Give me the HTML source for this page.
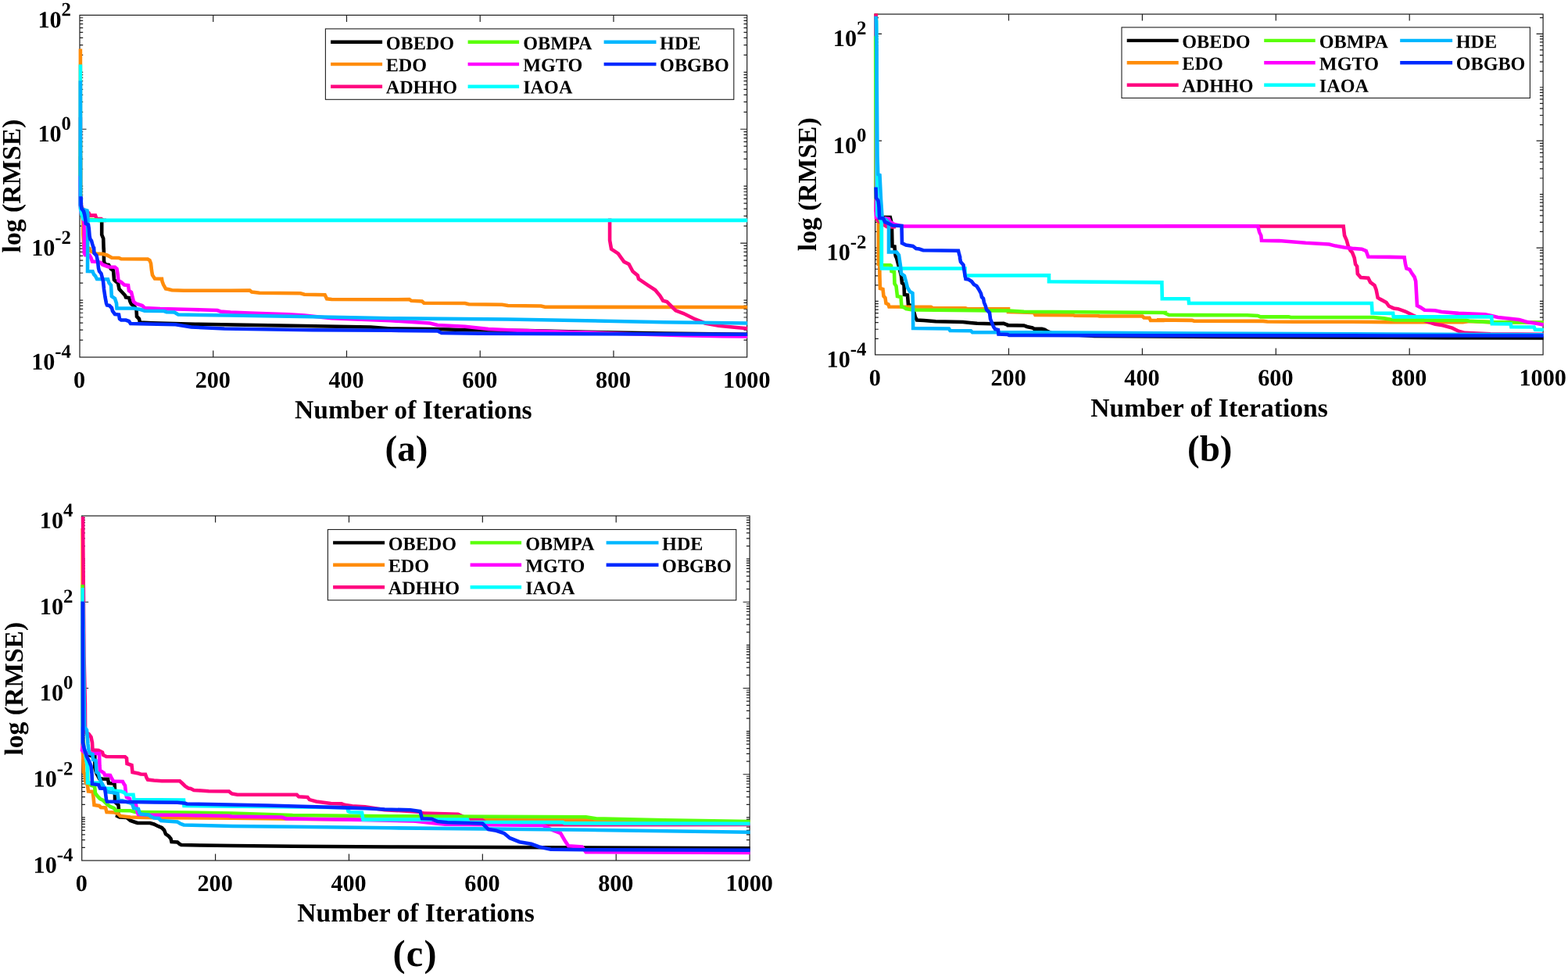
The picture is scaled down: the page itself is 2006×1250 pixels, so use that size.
<!DOCTYPE html>
<html lang="en">
<head>
<meta charset="utf-8">
<title>Convergence curves: log (RMSE) vs Number of Iterations</title>
<style>
html,body{margin:0;padding:0;background:#fff;}
body{width:2006px;height:1250px;overflow:hidden;font-family:"Liberation Serif", serif;}
svg{display:block;}
text{white-space:pre;}
</style>
</head>
<body>
<svg width="2006" height="1250" viewBox="0 0 2006 1250">
<rect width="2006" height="1250" fill="#fff"/>
<g id="plot-a">
<clipPath id="clip_a"><rect x="99" y="18.8" width="857.7" height="438.8"/></clipPath>
<g stroke="#1f1f1f" stroke-width="1.2" fill="none">
<rect x="102" y="19.4" width="853.7" height="437.6"/>
<path d="M272.74 457v-8.5M272.74 19.4v8.5M443.48 457v-8.5M443.48 19.4v8.5M614.22 457v-8.5M614.22 19.4v8.5M784.96 457v-8.5M784.96 19.4v8.5M102 435.04h4.2M955.7 435.04h-4.2M102 422.2h4.2M955.7 422.2h-4.2M102 413.09h4.2M955.7 413.09h-4.2M102 406.02h4.2M955.7 406.02h-4.2M102 400.25h4.2M955.7 400.25h-4.2M102 395.36h4.2M955.7 395.36h-4.2M102 391.13h4.2M955.7 391.13h-4.2M102 387.4h4.2M955.7 387.4h-4.2M102 384.07h4.2M955.7 384.07h-4.2M102 362.11h4.2M955.7 362.11h-4.2M102 349.27h4.2M955.7 349.27h-4.2M102 340.16h4.2M955.7 340.16h-4.2M102 333.09h4.2M955.7 333.09h-4.2M102 327.31h4.2M955.7 327.31h-4.2M102 322.43h4.2M955.7 322.43h-4.2M102 318.2h4.2M955.7 318.2h-4.2M102 314.47h4.2M955.7 314.47h-4.2M102 311.13h8.5M955.7 311.13h-8.5M102 289.18h4.2M955.7 289.18h-4.2M102 276.34h4.2M955.7 276.34h-4.2M102 267.22h4.2M955.7 267.22h-4.2M102 260.16h4.2M955.7 260.16h-4.2M102 254.38h4.2M955.7 254.38h-4.2M102 249.5h4.2M955.7 249.5h-4.2M102 245.27h4.2M955.7 245.27h-4.2M102 241.54h4.2M955.7 241.54h-4.2M102 238.2h4.2M955.7 238.2h-4.2M102 216.24h4.2M955.7 216.24h-4.2M102 203.4h4.2M955.7 203.4h-4.2M102 194.29h4.2M955.7 194.29h-4.2M102 187.22h4.2M955.7 187.22h-4.2M102 181.45h4.2M955.7 181.45h-4.2M102 176.56h4.2M955.7 176.56h-4.2M102 172.33h4.2M955.7 172.33h-4.2M102 168.6h4.2M955.7 168.6h-4.2M102 165.27h8.5M955.7 165.27h-8.5M102 143.31h4.2M955.7 143.31h-4.2M102 130.47h4.2M955.7 130.47h-4.2M102 121.36h4.2M955.7 121.36h-4.2M102 114.29h4.2M955.7 114.29h-4.2M102 108.51h4.2M955.7 108.51h-4.2M102 103.63h4.2M955.7 103.63h-4.2M102 99.4h4.2M955.7 99.4h-4.2M102 95.67h4.2M955.7 95.67h-4.2M102 92.33h4.2M955.7 92.33h-4.2M102 70.38h4.2M955.7 70.38h-4.2M102 57.54h4.2M955.7 57.54h-4.2M102 48.42h4.2M955.7 48.42h-4.2M102 41.36h4.2M955.7 41.36h-4.2M102 35.58h4.2M955.7 35.58h-4.2M102 30.7h4.2M955.7 30.7h-4.2M102 26.47h4.2M955.7 26.47h-4.2M102 22.74h4.2M955.7 22.74h-4.2"/>
</g>
<g clip-path="url(#clip_a)" fill="none" stroke-width="4.6" stroke-linejoin="miter" stroke-miterlimit="2" stroke-linecap="butt">
<polyline points="102.9,200 102.9,262 104.2,270 108,277 113,281 130.2,281.9 130.2,300.4 132.2,305.2 132.6,318 132.8,320 133,335 135,338.5 139,339 142,344 145,346 146,358 148,360 151,362 152.5,370 155,372.5 160,378 161,380.5 165,381 166.5,386 168,389 172,392 174.5,396 175,405 178,408 179,412.5 195,413.2 249.63,414.75 374.44,416.75 474.29,418.5 500,420.49 557.41,420.99 599.85,422.24 674.74,422.99 749.63,424.74 849.48,426.49 956.2,427.73" stroke="#000000"/>
<polyline points="102.9,62.4 102.9,250 104,268 106.3,283 106.3,300 107.5,316 114.5,318 115.5,321 123,324.5 132,325 137,326.5 143,329.8 152,330 155,331.3 189,331.5 191.5,333 193,337 194,346 195,352 198,356.5 207,356.8 207.5,360 209,364 212,369.5 215,370 220,371.2 235,371.8 295,371.8 319.52,371.57 322.02,373.56 332,374.81 384.42,375.31 389.42,376.81 415.63,377.31 418.12,382.3 424.36,383.05 500,383.3 523.71,383.05 526.21,384.8 539.94,385.55 542.44,387.79 594.86,388.04 599.85,389.29 642.29,389.79 649.78,391.04 692.21,391.54 697.2,392.79 956.2,393.04" stroke="#FF8C0A"/>
<polyline points="102.9,150 102.9,255 104.5,266 109,270 113.5,272.5 115,275.6 122,275.6 123.5,279.8 129.5,280.1 132,281.9 136,281.9" stroke="#FF0580"/>
<polyline points="778,281.9 780.1,281.9 780.08,283.7 780.08,307.41 782.08,318.65 790.81,324.39 798.3,334.87 804.54,337.87 809.54,347.35 815.78,352.35 817.02,356.84 829.51,365.33 838.24,371.07 844.48,378.56 848.23,384.8 853.22,386.05 860.71,393.53 864.45,397.28 874.44,401.02 889.42,408.51 901.9,413.5 919.37,416.75 939.34,418.75 956.2,420.24" stroke="#FF0580"/>
<polyline points="102.9,180 102.9,260 105,270 110,278 114,280.8 121,281.3 126,281.9 132,281.9" stroke="#5AFF0A"/>
<polyline points="102.3,225 102.5,262 103.5,272 106.5,280 107.6,286 107.8,324 109,326.3 114.5,326.5 116.5,330 118,334.5 125,335 129,336 131,338.5 135,340 139,341.5 147,341.8 149.5,344 150.5,350 151.5,359 155,361 159,364.5 164,365 165,372 168,374 169.5,380 171,386 174,388.5 182,391 185,394 205,395 245,396 278,397 282,398.5 295,399.5 319.52,400.52 369.45,402.27 389.42,403.52 424.36,407.26 500,410.26 549.93,413.5 559.91,416 594.86,417.75 624.81,420.99 662.26,422.74 724.66,424.74 824.51,427.73 874.44,429.23 924.36,430.23 956.2,430.48" stroke="#FF00FF"/>
<polyline points="102.9,82.4 102.9,266 104.2,274 106.5,280 109,281.9 956.2,281.9" stroke="#00FFFF"/>
<polyline points="102.9,103.2 102.9,262 104.5,267.5 109.5,269 111.5,269.6 112.3,274 112.3,283 112,347 118.5,347.2 120,351 122,353 124,357 138,357.2 139.5,362 142,365 142.8,379 145,380.5 147,382 149,388 149.5,394.5 171,394.5 180,396 185,397.8 210,398 213,399.2 223,399.5 228,402.5 255,403 295,403.5 399.4,405.27 500,407.26 649.78,408.51 749.63,410.26 849.48,412.26 956.2,413.5" stroke="#00B7FF"/>
<polyline points="103.56,251.2 103.8,262 104.44,266.8 106.84,270 108.2,274.8 109.24,281.2 109.8,286 113,287.6 113.8,292.4 114.6,302 115.4,306 117,308 118.2,312.4 119.4,316.4 120,316 120.5,324 123.5,327 125,334 126,343 127,347 129.5,350 132,360 133,370 134.5,380 136,388 137,390.5 140,391 143,394 144,398 147,402 152,402.5 153,408 155,409.5 161,409.5 165,411 167,414 224.66,415.25 244.63,418.5 287.07,420.49 399.4,422.24 500,422.74 559.91,423.49 564.9,425.99 612.33,426.73 749.63,427.23 956.2,427.73" stroke="#002AFF"/>
</g>
<g font-family='"Liberation Serif", serif' font-weight="bold" fill="#000" transform="matrix(1 0.0005 0 1 0 0)">
<text x="101.6" y="496.05" font-size="30.2" text-anchor="middle">0</text>
<text x="272.34" y="495.96" font-size="30.2" text-anchor="middle">200</text>
<text x="443.08" y="495.88" font-size="30.2" text-anchor="middle">400</text>
<text x="613.82" y="495.79" font-size="30.2" text-anchor="middle">600</text>
<text x="784.56" y="495.71" font-size="30.2" text-anchor="middle">800</text>
<text x="955.3" y="495.62" font-size="30.2" text-anchor="middle">1000</text>
<text x="91" y="35.16" font-size="30.2" text-anchor="end">10<tspan font-size="24.8" dy="-15">2</tspan></text>
<text x="91" y="181.03" font-size="30.2" text-anchor="end">10<tspan font-size="24.8" dy="-15">0</tspan></text>
<text x="91" y="326.9" font-size="30.2" text-anchor="end">10<tspan font-size="24.8" dy="-15">-2</tspan></text>
<text x="91" y="472.76" font-size="30.2" text-anchor="end">10<tspan font-size="24.8" dy="-15">-4</tspan></text>
<text x="528.9" y="535.14" font-size="33.6" text-anchor="middle">Number of Iterations</text>
<text transform="translate(25.9 237.99) rotate(-90)" font-size="33.6" text-anchor="middle">log (RMSE)</text>
<text x="520" y="589.34" font-size="47" text-anchor="middle">(a)</text>
<rect x="416.4" y="36.9" width="522.4" height="90.4" fill="#fff" stroke="#1f1f1f" stroke-width="1.1" transform="matrix(1 -0.0005 0 1 0 0)"/>
<line x1="423.1" y1="53.8" x2="489.1" y2="53.8" stroke="#000000" stroke-width="4.4" transform="matrix(1 -0.0005 0 1 0 0)"/>
<text x="493.7" y="62.93" font-size="24.2">OBEDO</text>
<line x1="423.1" y1="82.1" x2="489.1" y2="82.1" stroke="#FF8C0A" stroke-width="4.4" transform="matrix(1 -0.0005 0 1 0 0)"/>
<text x="493.7" y="91.03" font-size="24.2">EDO</text>
<line x1="423.1" y1="110.7" x2="489.1" y2="110.7" stroke="#FF0580" stroke-width="4.4" transform="matrix(1 -0.0005 0 1 0 0)"/>
<text x="493.7" y="119.33" font-size="24.2">ADHHO</text>
<line x1="598.6" y1="53.8" x2="664.1" y2="53.8" stroke="#5AFF0A" stroke-width="4.4" transform="matrix(1 -0.0005 0 1 0 0)"/>
<text x="669.2" y="62.85" font-size="24.2">OBMPA</text>
<line x1="598.6" y1="82.1" x2="664.1" y2="82.1" stroke="#FF00FF" stroke-width="4.4" transform="matrix(1 -0.0005 0 1 0 0)"/>
<text x="669.2" y="90.95" font-size="24.2">MGTO</text>
<line x1="598.6" y1="110.7" x2="664.1" y2="110.7" stroke="#00FFFF" stroke-width="4.4" transform="matrix(1 -0.0005 0 1 0 0)"/>
<text x="669.2" y="119.25" font-size="24.2">IAOA</text>
<line x1="772.6" y1="53.8" x2="839.5" y2="53.8" stroke="#00B7FF" stroke-width="4.4" transform="matrix(1 -0.0005 0 1 0 0)"/>
<text x="844.1" y="62.76" font-size="24.2">HDE</text>
<line x1="772.6" y1="82.1" x2="839.5" y2="82.1" stroke="#002AFF" stroke-width="4.4" transform="matrix(1 -0.0005 0 1 0 0)"/>
<text x="844.1" y="90.86" font-size="24.2">OBGBO</text>
</g>
</g>
<g id="plot-b">
<clipPath id="clip_b"><rect x="1116.6" y="17.5" width="858.5" height="437"/></clipPath>
<g stroke="#1f1f1f" stroke-width="1.2" fill="none">
<rect x="1119.6" y="18.1" width="854.5" height="435.8"/>
<path d="M1290.5 453.9v-8.5M1290.5 18.1v8.5M1461.4 453.9v-8.5M1461.4 18.1v8.5M1632.3 453.9v-8.5M1632.3 18.1v8.5M1803.2 453.9v-8.5M1803.2 18.1v8.5M1119.6 433.3h4.2M1974.1 433.3h-4.2M1119.6 421.25h4.2M1974.1 421.25h-4.2M1119.6 412.7h4.2M1974.1 412.7h-4.2M1119.6 406.07h4.2M1974.1 406.07h-4.2M1119.6 400.65h4.2M1974.1 400.65h-4.2M1119.6 396.07h4.2M1974.1 396.07h-4.2M1119.6 392.1h4.2M1974.1 392.1h-4.2M1119.6 388.6h4.2M1974.1 388.6h-4.2M1119.6 385.47h4.2M1974.1 385.47h-4.2M1119.6 364.87h4.2M1974.1 364.87h-4.2M1119.6 352.82h4.2M1974.1 352.82h-4.2M1119.6 344.27h4.2M1974.1 344.27h-4.2M1119.6 337.63h4.2M1974.1 337.63h-4.2M1119.6 332.22h4.2M1974.1 332.22h-4.2M1119.6 327.63h4.2M1974.1 327.63h-4.2M1119.6 323.67h4.2M1974.1 323.67h-4.2M1119.6 320.16h4.2M1974.1 320.16h-4.2M1119.6 317.03h8.5M1974.1 317.03h-8.5M1119.6 296.43h4.2M1974.1 296.43h-4.2M1119.6 284.38h4.2M1974.1 284.38h-4.2M1119.6 275.83h4.2M1974.1 275.83h-4.2M1119.6 269.2h4.2M1974.1 269.2h-4.2M1119.6 263.78h4.2M1974.1 263.78h-4.2M1119.6 259.2h4.2M1974.1 259.2h-4.2M1119.6 255.23h4.2M1974.1 255.23h-4.2M1119.6 251.73h4.2M1974.1 251.73h-4.2M1119.6 248.6h4.2M1974.1 248.6h-4.2M1119.6 228h4.2M1974.1 228h-4.2M1119.6 215.95h4.2M1974.1 215.95h-4.2M1119.6 207.4h4.2M1974.1 207.4h-4.2M1119.6 200.77h4.2M1974.1 200.77h-4.2M1119.6 195.35h4.2M1974.1 195.35h-4.2M1119.6 190.77h4.2M1974.1 190.77h-4.2M1119.6 186.8h4.2M1974.1 186.8h-4.2M1119.6 183.3h4.2M1974.1 183.3h-4.2M1119.6 180.17h8.5M1974.1 180.17h-8.5M1119.6 159.57h4.2M1974.1 159.57h-4.2M1119.6 147.52h4.2M1974.1 147.52h-4.2M1119.6 138.97h4.2M1974.1 138.97h-4.2M1119.6 132.33h4.2M1974.1 132.33h-4.2M1119.6 126.92h4.2M1974.1 126.92h-4.2M1119.6 122.33h4.2M1974.1 122.33h-4.2M1119.6 118.37h4.2M1974.1 118.37h-4.2M1119.6 114.86h4.2M1974.1 114.86h-4.2M1119.6 111.73h4.2M1974.1 111.73h-4.2M1119.6 91.13h4.2M1974.1 91.13h-4.2M1119.6 79.08h4.2M1974.1 79.08h-4.2M1119.6 70.53h4.2M1974.1 70.53h-4.2M1119.6 63.9h4.2M1974.1 63.9h-4.2M1119.6 58.48h4.2M1974.1 58.48h-4.2M1119.6 53.9h4.2M1974.1 53.9h-4.2M1119.6 49.93h4.2M1974.1 49.93h-4.2M1119.6 46.43h4.2M1974.1 46.43h-4.2M1119.6 43.3h8.5M1974.1 43.3h-8.5M1119.6 22.7h4.2M1974.1 22.7h-4.2"/>
</g>
<g clip-path="url(#clip_b)" fill="none" stroke-width="4.6" stroke-linejoin="miter" stroke-miterlimit="2" stroke-linecap="butt">
<polyline points="1120.8,10 1121,270 1122.5,276 1125,278 1131.5,278 1138.8,278 1140,283 1141,293 1141.5,315 1144.5,315.5 1145,323 1145.8,327.5 1147,330 1153,353 1154,362 1156.5,364 1157,377 1161,377.5 1162,390 1166,391 1169.5,400 1171,406 1173,409.5 1182,410 1197,411.2 1232,412 1241,413 1250,413.8 1268,414.2 1284,413.8 1290,416 1290,416.12 1309.94,416.42 1313.93,417.92 1320.91,419.41 1322.9,420.71 1332.87,420.71 1336.86,421.9 1338.85,423.4 1345.83,426.39 1400,430 1560,430.9 1700,431.5 1850,432.1 1974.6,432.5" stroke="#000000"/>
<polyline points="1120.8,10 1121.2,250 1123,275 1123.8,283 1123.8,340 1125,330 1125.5,355 1126,369 1129.5,370 1130.5,379 1132.5,381 1133.5,388 1136.5,389.5 1137.5,392.5 1191,392.7 1193,394 1235,394.3 1237,395 1290,395.3 1290,398.97 1322.9,399.97 1324.4,402.96 1372.75,403.16 1374.75,403.76 1404.66,403.96 1406.65,404.56 1461.49,404.56 1463.48,406.45 1470.46,406.75 1471.95,409.94 1489.7,409.94 1480,409.42 1524.89,409.83 1527.61,410.78 1616.02,410.91 1621.46,411.46 1656.82,411.73 1730,411.73 1784.41,412.14 1871.46,412.27 1879.62,411.05 1906.82,412.14 1974.6,412.55" stroke="#FF8C0A"/>
<polyline points="1120.6,10 1120.8,270 1121.5,280 1124,283 1130,287 1134.5,290 1142,290.5 1146,290" stroke="#FF0580"/>
<polyline points="1607.86,289.45 1718.71,289.45 1720.07,301.28 1722.79,307.4 1724.83,314.89 1727.55,320.33 1730,323.05 1732.72,329.85 1734.08,338.01 1736.12,340.73 1736.8,350.25 1740.88,355.01 1750.4,355.69 1753.12,361.13 1758.56,365.21 1760.6,370.65 1762.64,380.85 1766.04,382.89 1773.53,386.97 1776.93,391.74 1783.05,394.46 1788.49,395.14 1798.01,398.54 1807.53,403.3 1825.21,411.46 1836.09,414.86 1845.61,416.22 1857.86,419.62 1866.02,423.7 1874.18,425.88 1906.82,427.24 1974.6,427.78" stroke="#FF0580"/>
<polyline points="1120.2,46 1120.5,255 1122,272 1126,281 1127.8,286 1127.8,339.2 1139,339.2 1140,340 1140.5,347 1144,348 1144.5,363 1146.5,366 1148,379 1152.5,380 1153.5,392.5 1157,393.5 1159,395 1166,396.3 1172,396.5 1290,397.5 1309.94,398.77 1489.7,399.97 1489.52,400.3 1495.64,403.03 1595.61,403.3 1609.22,403.98 1612.62,405.34 1648.66,405.34 1651.38,406.02 1730,406.02 1757.2,406.02 1770.81,407.38 1784.41,409.42 1875.54,409.83 1879.62,410.78 1906.82,412.14 1974.6,412.55" stroke="#5AFF0A"/>
<polyline points="1121.4,60 1121.4,240 1120.9,260 1120.9,278 1137,280 1139,284 1144,287 1155,289.5 1609.22,289.31 1611.26,297.2 1613.3,301.28 1613.98,307.81 1636.42,308.08 1670.42,310.81 1700.35,312.44 1708.51,314.61 1719.39,316.52 1730,317.88 1742.24,318.69 1747.68,321.01 1750.4,328.49 1796.65,329.17 1798.01,338.01 1799.37,343.45 1803.45,344.81 1806.17,349.57 1809.57,354.33 1811.2,359.77 1812.97,391.06 1817.05,393.1 1822.49,396.77 1836.09,397.18 1844.25,398.94 1866.02,400.85 1900.02,402.21 1908.18,403.98 1916.34,406.02 1943.55,409.01 1954.43,412.14 1963.95,413.5 1974.6,415.54" stroke="#FF00FF"/>
<polyline points="1121.2,26 1121.8,200 1121.8,225 1122.3,275 1127,281 1127.8,285 1127.8,340 1128,343.5 1234.5,343.5 1234.5,352.5 1341.99,352.35 1341.99,360.33 1486.39,361.4 1486.8,382.21 1520.53,382.21 1521.08,388.06 1754.89,388.06 1755.57,400.58 1782.09,400.85 1782.77,405.34 1908.18,405.34 1908.86,414.18 1932.67,414.45 1933.35,418.26 1962.59,418.53 1963.95,421.66 1973.47,422.07 1974.6,423.02" stroke="#00FFFF"/>
<polyline points="1120.6,20.7 1121.4,60 1122.5,200 1123,215 1123.2,223 1125.5,224 1127,255 1128.5,277 1129.5,279 1133.5,281 1137,285 1137,322.5 1147,322.5 1150,326.5 1150.5,330 1152,340 1153,350 1157,353 1159,360 1161,368 1164,373 1167.5,375 1168,390 1168.2,420 1214,420.5 1215.5,423 1242,423.2 1244,425.2 1319.91,425.39 1480,426.42 1730,427.24 1974.6,428.32" stroke="#00B7FF"/>
<polyline points="1120.5,239.5 1121,253 1123.5,257 1124.5,265 1125,279 1130,279.5 1132,284 1137,286 1142,288.5 1153.5,289 1154,311 1159,313.5 1168,315 1172,318 1176,318.5 1181,320.2 1226,320.8 1227,325 1228.2,329 1228,330 1229,335 1232.5,339 1233.5,346 1234.5,352 1235.5,357 1239,357.5 1243,360 1246,364 1249.5,366 1252,370 1255,375.5 1256,380 1258,382 1259,387 1261,392 1262,396 1266,400 1267,408 1269,413 1271,418 1273,421 1277,422 1277.5,427.5 1289,428 1291,429 1312,429 1480,429.41 1730,429.41 1974.6,429.55" stroke="#002AFF"/>
</g>
<g font-family='"Liberation Serif", serif' font-weight="bold" fill="#000" transform="matrix(1 0.0005 0 1 0 0)">
<text x="1119.2" y="492.74" font-size="30.2" text-anchor="middle">0</text>
<text x="1290.1" y="492.65" font-size="30.2" text-anchor="middle">200</text>
<text x="1461" y="492.57" font-size="30.2" text-anchor="middle">400</text>
<text x="1631.9" y="492.48" font-size="30.2" text-anchor="middle">600</text>
<text x="1802.8" y="492.4" font-size="30.2" text-anchor="middle">800</text>
<text x="1973.7" y="492.31" font-size="30.2" text-anchor="middle">1000</text>
<text x="1108.4" y="58.56" font-size="30.2" text-anchor="end">10<tspan font-size="24.8" dy="-15">2</tspan></text>
<text x="1108.4" y="195.42" font-size="30.2" text-anchor="end">10<tspan font-size="24.8" dy="-15">0</tspan></text>
<text x="1108.4" y="332.29" font-size="30.2" text-anchor="end">10<tspan font-size="24.8" dy="-15">-2</tspan></text>
<text x="1108.4" y="469.16" font-size="30.2" text-anchor="end">10<tspan font-size="24.8" dy="-15">-4</tspan></text>
<text x="1547" y="532.23" font-size="33.6" text-anchor="middle">Number of Iterations</text>
<text transform="translate(1043.8 235.28) rotate(-90)" font-size="33.6" text-anchor="middle">log (RMSE)</text>
<text x="1547.8" y="588.83" font-size="47" text-anchor="middle">(b)</text>
<rect x="1435" y="35" width="522.4" height="90.4" fill="#fff" stroke="#1f1f1f" stroke-width="1.1" transform="matrix(1 -0.0005 0 1 0 0)"/>
<line x1="1441.7" y1="51.9" x2="1507.7" y2="51.9" stroke="#000000" stroke-width="4.4" transform="matrix(1 -0.0005 0 1 0 0)"/>
<text x="1512.3" y="60.52" font-size="24.2">OBEDO</text>
<line x1="1441.7" y1="80.2" x2="1507.7" y2="80.2" stroke="#FF8C0A" stroke-width="4.4" transform="matrix(1 -0.0005 0 1 0 0)"/>
<text x="1512.3" y="88.62" font-size="24.2">EDO</text>
<line x1="1441.7" y1="108.8" x2="1507.7" y2="108.8" stroke="#FF0580" stroke-width="4.4" transform="matrix(1 -0.0005 0 1 0 0)"/>
<text x="1512.3" y="116.92" font-size="24.2">ADHHO</text>
<line x1="1617.2" y1="51.9" x2="1682.7" y2="51.9" stroke="#5AFF0A" stroke-width="4.4" transform="matrix(1 -0.0005 0 1 0 0)"/>
<text x="1687.8" y="60.44" font-size="24.2">OBMPA</text>
<line x1="1617.2" y1="80.2" x2="1682.7" y2="80.2" stroke="#FF00FF" stroke-width="4.4" transform="matrix(1 -0.0005 0 1 0 0)"/>
<text x="1687.8" y="88.54" font-size="24.2">MGTO</text>
<line x1="1617.2" y1="108.8" x2="1682.7" y2="108.8" stroke="#00FFFF" stroke-width="4.4" transform="matrix(1 -0.0005 0 1 0 0)"/>
<text x="1687.8" y="116.84" font-size="24.2">IAOA</text>
<line x1="1791.2" y1="51.9" x2="1858.1" y2="51.9" stroke="#00B7FF" stroke-width="4.4" transform="matrix(1 -0.0005 0 1 0 0)"/>
<text x="1862.7" y="60.35" font-size="24.2">HDE</text>
<line x1="1791.2" y1="80.2" x2="1858.1" y2="80.2" stroke="#002AFF" stroke-width="4.4" transform="matrix(1 -0.0005 0 1 0 0)"/>
<text x="1862.7" y="88.45" font-size="24.2">OBGBO</text>
</g>
</g>
<g id="plot-c">
<clipPath id="clip_c"><rect x="101.7" y="659.4" width="858.4" height="442.2"/></clipPath>
<g stroke="#1f1f1f" stroke-width="1.2" fill="none">
<rect x="104.7" y="660" width="854.4" height="441"/>
<path d="M275.58 1101v-8.5M275.58 660v8.5M446.46 1101v-8.5M446.46 660v8.5M617.34 1101v-8.5M617.34 660v8.5M788.22 1101v-8.5M788.22 660v8.5M104.7 1084.41h4.2M959.1 1084.41h-4.2M104.7 1074.7h4.2M959.1 1074.7h-4.2M104.7 1067.81h4.2M959.1 1067.81h-4.2M104.7 1062.47h4.2M959.1 1062.47h-4.2M104.7 1058.1h4.2M959.1 1058.1h-4.2M104.7 1054.41h4.2M959.1 1054.41h-4.2M104.7 1051.22h4.2M959.1 1051.22h-4.2M104.7 1048.4h4.2M959.1 1048.4h-4.2M104.7 1045.88h4.2M959.1 1045.88h-4.2M104.7 1029.28h4.2M959.1 1029.28h-4.2M104.7 1019.57h4.2M959.1 1019.57h-4.2M104.7 1012.69h4.2M959.1 1012.69h-4.2M104.7 1007.34h4.2M959.1 1007.34h-4.2M104.7 1002.98h4.2M959.1 1002.98h-4.2M104.7 999.29h4.2M959.1 999.29h-4.2M104.7 996.09h4.2M959.1 996.09h-4.2M104.7 993.27h4.2M959.1 993.27h-4.2M104.7 990.75h8.5M959.1 990.75h-8.5M104.7 974.16h4.2M959.1 974.16h-4.2M104.7 964.45h4.2M959.1 964.45h-4.2M104.7 957.56h4.2M959.1 957.56h-4.2M104.7 952.22h4.2M959.1 952.22h-4.2M104.7 947.85h4.2M959.1 947.85h-4.2M104.7 944.16h4.2M959.1 944.16h-4.2M104.7 940.97h4.2M959.1 940.97h-4.2M104.7 938.15h4.2M959.1 938.15h-4.2M104.7 935.62h4.2M959.1 935.62h-4.2M104.7 919.03h4.2M959.1 919.03h-4.2M104.7 909.32h4.2M959.1 909.32h-4.2M104.7 902.44h4.2M959.1 902.44h-4.2M104.7 897.09h4.2M959.1 897.09h-4.2M104.7 892.73h4.2M959.1 892.73h-4.2M104.7 889.04h4.2M959.1 889.04h-4.2M104.7 885.84h4.2M959.1 885.84h-4.2M104.7 883.02h4.2M959.1 883.02h-4.2M104.7 880.5h8.5M959.1 880.5h-8.5M104.7 863.91h4.2M959.1 863.91h-4.2M104.7 854.2h4.2M959.1 854.2h-4.2M104.7 847.31h4.2M959.1 847.31h-4.2M104.7 841.97h4.2M959.1 841.97h-4.2M104.7 837.6h4.2M959.1 837.6h-4.2M104.7 833.91h4.2M959.1 833.91h-4.2M104.7 830.72h4.2M959.1 830.72h-4.2M104.7 827.9h4.2M959.1 827.9h-4.2M104.7 825.38h4.2M959.1 825.38h-4.2M104.7 808.78h4.2M959.1 808.78h-4.2M104.7 799.07h4.2M959.1 799.07h-4.2M104.7 792.19h4.2M959.1 792.19h-4.2M104.7 786.84h4.2M959.1 786.84h-4.2M104.7 782.48h4.2M959.1 782.48h-4.2M104.7 778.79h4.2M959.1 778.79h-4.2M104.7 775.59h4.2M959.1 775.59h-4.2M104.7 772.77h4.2M959.1 772.77h-4.2M104.7 770.25h8.5M959.1 770.25h-8.5M104.7 753.66h4.2M959.1 753.66h-4.2M104.7 743.95h4.2M959.1 743.95h-4.2M104.7 737.06h4.2M959.1 737.06h-4.2M104.7 731.72h4.2M959.1 731.72h-4.2M104.7 727.35h4.2M959.1 727.35h-4.2M104.7 723.66h4.2M959.1 723.66h-4.2M104.7 720.47h4.2M959.1 720.47h-4.2M104.7 717.65h4.2M959.1 717.65h-4.2M104.7 715.12h4.2M959.1 715.12h-4.2M104.7 698.53h4.2M959.1 698.53h-4.2M104.7 688.82h4.2M959.1 688.82h-4.2M104.7 681.94h4.2M959.1 681.94h-4.2M104.7 676.59h4.2M959.1 676.59h-4.2M104.7 672.23h4.2M959.1 672.23h-4.2M104.7 668.54h4.2M959.1 668.54h-4.2M104.7 665.34h4.2M959.1 665.34h-4.2M104.7 662.52h4.2M959.1 662.52h-4.2"/>
</g>
<g clip-path="url(#clip_c)" fill="none" stroke-width="4.6" stroke-linejoin="miter" stroke-miterlimit="2" stroke-linecap="butt">
<polyline points="105.7,800 105.7,950 108,962 114,966 119,968 121.3,968 121.3,982 123.2,989 127,996 131,996.5 138,996.8 139,1002 146.5,1002.5 147,1010 147,1026 151.5,1030 152,1036 150,1044 153,1045.5 162,1046 167,1050 173,1052 176,1053 192,1053 197,1054.5 202,1057 207,1059 210,1062 212,1067 216,1070 218.5,1073 219.5,1077 227,1077.5 230,1080 232,1081 257,1081.5 297,1082 374.44,1082.73 500,1083.47 959.6,1085.22" stroke="#000000"/>
<polyline points="105.7,676 105.7,950 106,962 107,988 108.5,990 109.5,1000 112,1005 113,1012.5 118.5,1013 119.5,1020 120.5,1030 127,1031 129,1033 135,1033.5 136.5,1039 147,1039.5 151,1041 154,1044 167,1045.5 187,1046 207,1046.2 297,1046.8 374.44,1047.78 500,1049.03 749.63,1049.03 959.6,1052.27" stroke="#FF8C0A"/>
<polyline points="106,661 107.5,840 108.9,900 109.1,937 112,938.5 113.5,939 116.5,943 118,950 118.5,959.5 126,960 131,962.5 132,966 136,968 160,968.2 162,970 162.5,977 168.5,979 169.5,988 177,989.5 180,990.5 186,990.8 187.5,995 189,997.5 197,998.5 207,999.2 230,999.2 233,1002 237,1006 241,1008.5 244,1009 248,1011 257,1011.5 267,1012.2 293,1012.5 296,1015 297,1015.5 303.7,1016.8 379.7,1016.8 382.2,1019.3 393.4,1019.9 395.9,1023.1 404.6,1025.5 423.3,1028 437,1028.4 440.8,1029.9 450.7,1031.2 467,1032.4 492,1036.1 536,1038.7 542.3,1040.6 586,1041.8 599.6,1048 617,1049.3 623.3,1053.4 692,1054.3 704.3,1055.3 729.6,1055.3 959.6,1054.9" stroke="#FF0580"/>
<polyline points="105.7,748 105.7,935 107.5,958 110.5,970 111.8,980 112.3,1000 116,1004.5 121,1006 121,1006 122,1015 125,1019 128,1022 132,1024 137,1029 141,1032 146,1034 148,1037 167,1037.2 173,1039 182,1039 237,1039.5 297,1040.5 374.44,1043.04 500,1044.28 749.63,1045.28 762.11,1047.28 849.48,1049.28 959.6,1051.02" stroke="#5AFF0A"/>
<polyline points="105.6,930 105.7,955 105,960 109,964 127,964 127.5,980 128,986 130,987 133,989 134,991.5 141,992 143,996 145,999.5 157,1000 158.5,1003 160,1005 161,1015 162,1020 166,1022 167,1027 174,1030 176,1040 177,1042 184,1042.5 237,1043 280,1043.8 292.5,1043.9 296.2,1044.6 361,1045.5 366,1047.4 404.6,1048 463,1048.9 529.6,1050.5 549.93,1052.77 569.9,1054.77 694.71,1056.02 707.19,1062.26 717.17,1066 722.17,1074.74 727.16,1082.23 744.63,1083.47 749.63,1090.21 959.6,1090.96" stroke="#FF00FF"/>
<polyline points="105.7,752 105.7,950 108.5,960 110,970 111.8,980 112,1001.5 127,1001.5 128,1004 135,1008.5 144,1009 145,1011.5 155,1012.5 159,1014 161,1016.5 170.5,1016.8 171.5,1023 235,1023.5 235.5,1031 307,1031.6 342,1032 442,1033.3 444.3,1033.5 445.5,1038 448,1039 463,1039.8 464.5,1048.6 598,1048.6 599.5,1051.7 720,1052.1 722,1053.3 959.6,1053.9" stroke="#00FFFF"/>
<polyline points="106.3,770 107.7,900 108.2,930 111,934 112,945 112.5,952 113.5,960 115,964 118.5,965 119,972 122.5,973 123,980 123,980 123.5,988 126,989.5 127,994 129,1000 131.5,1004 133,1007.5 137,1013 144,1014 150.5,1015.5 151.5,1023 169,1028 171,1034 177,1035 178.5,1040 180,1041.5 190,1042.5 193,1044.5 197,1046.5 203,1047 206,1050 227,1051.5 231,1054 235,1055.5 257,1056 297,1057 374.44,1057.76 500,1059.26 749.63,1061.76 959.6,1064.75" stroke="#00B7FF"/>
<polyline points="105.7,769.6 106,900 106.2,950 107.5,957 109,962 111,968 114,974 116.5,980 116.5,980 117.5,990 118,1003 126,1004 128,1008.5 134,1009 135,1015 136,1023 137,1025.5 167,1026 197,1026.5 227,1026.8 237,1027.8 239,1028.5 267,1029 280,1029.3 342,1030.5 404.6,1032.2 442,1033.4 467,1034.3 492,1035.5 524.96,1036.3 537.44,1038.04 539.94,1047.28 552.42,1047.78 559.91,1051.02 572.39,1052.27 617.32,1053.52 624.81,1061.01 634.8,1062.76 644.78,1066 652.27,1072.24 664.75,1077.23 679.73,1079.73 689.72,1083.47 704.69,1086.72 749.63,1087.22 959.6,1087.72" stroke="#002AFF"/>
</g>
<g font-family='"Liberation Serif", serif' font-weight="bold" fill="#000" transform="matrix(1 0.0005 0 1 0 0)">
<text x="104.3" y="1139.85" font-size="30.2" text-anchor="middle">0</text>
<text x="275.18" y="1139.76" font-size="30.2" text-anchor="middle">200</text>
<text x="446.06" y="1139.68" font-size="30.2" text-anchor="middle">400</text>
<text x="616.94" y="1139.59" font-size="30.2" text-anchor="middle">600</text>
<text x="787.82" y="1139.51" font-size="30.2" text-anchor="middle">800</text>
<text x="958.7" y="1139.42" font-size="30.2" text-anchor="middle">1000</text>
<text x="93.4" y="675.76" font-size="30.2" text-anchor="end">10<tspan font-size="24.8" dy="-15">4</tspan></text>
<text x="93.4" y="786.01" font-size="30.2" text-anchor="end">10<tspan font-size="24.8" dy="-15">2</tspan></text>
<text x="93.4" y="896.26" font-size="30.2" text-anchor="end">10<tspan font-size="24.8" dy="-15">0</tspan></text>
<text x="93.4" y="1006.51" font-size="30.2" text-anchor="end">10<tspan font-size="24.8" dy="-15">-2</tspan></text>
<text x="93.4" y="1116.76" font-size="30.2" text-anchor="end">10<tspan font-size="24.8" dy="-15">-4</tspan></text>
<text x="532" y="1178.73" font-size="33.6" text-anchor="middle">Number of Iterations</text>
<text transform="translate(28.8 881.19) rotate(-90)" font-size="33.6" text-anchor="middle">log (RMSE)</text>
<text x="531.2" y="1235.73" font-size="48.3" text-anchor="middle" letter-spacing="1.3">(c)</text>
<rect x="419.4" y="677.5" width="522.4" height="90.4" fill="#fff" stroke="#1f1f1f" stroke-width="1.1" transform="matrix(1 -0.0005 0 1 0 0)"/>
<line x1="426.1" y1="694.4" x2="492.1" y2="694.4" stroke="#000000" stroke-width="4.4" transform="matrix(1 -0.0005 0 1 0 0)"/>
<text x="496.7" y="703.53" font-size="24.2">OBEDO</text>
<line x1="426.1" y1="722.7" x2="492.1" y2="722.7" stroke="#FF8C0A" stroke-width="4.4" transform="matrix(1 -0.0005 0 1 0 0)"/>
<text x="496.7" y="731.63" font-size="24.2">EDO</text>
<line x1="426.1" y1="751.3" x2="492.1" y2="751.3" stroke="#FF0580" stroke-width="4.4" transform="matrix(1 -0.0005 0 1 0 0)"/>
<text x="496.7" y="759.93" font-size="24.2">ADHHO</text>
<line x1="601.6" y1="694.4" x2="667.1" y2="694.4" stroke="#5AFF0A" stroke-width="4.4" transform="matrix(1 -0.0005 0 1 0 0)"/>
<text x="672.2" y="703.44" font-size="24.2">OBMPA</text>
<line x1="601.6" y1="722.7" x2="667.1" y2="722.7" stroke="#FF00FF" stroke-width="4.4" transform="matrix(1 -0.0005 0 1 0 0)"/>
<text x="672.2" y="731.54" font-size="24.2">MGTO</text>
<line x1="601.6" y1="751.3" x2="667.1" y2="751.3" stroke="#00FFFF" stroke-width="4.4" transform="matrix(1 -0.0005 0 1 0 0)"/>
<text x="672.2" y="759.84" font-size="24.2">IAOA</text>
<line x1="775.6" y1="694.4" x2="842.5" y2="694.4" stroke="#00B7FF" stroke-width="4.4" transform="matrix(1 -0.0005 0 1 0 0)"/>
<text x="847.1" y="703.36" font-size="24.2">HDE</text>
<line x1="775.6" y1="722.7" x2="842.5" y2="722.7" stroke="#002AFF" stroke-width="4.4" transform="matrix(1 -0.0005 0 1 0 0)"/>
<text x="847.1" y="731.46" font-size="24.2">OBGBO</text>
</g>
</g>
</svg>
</body>
</html>
